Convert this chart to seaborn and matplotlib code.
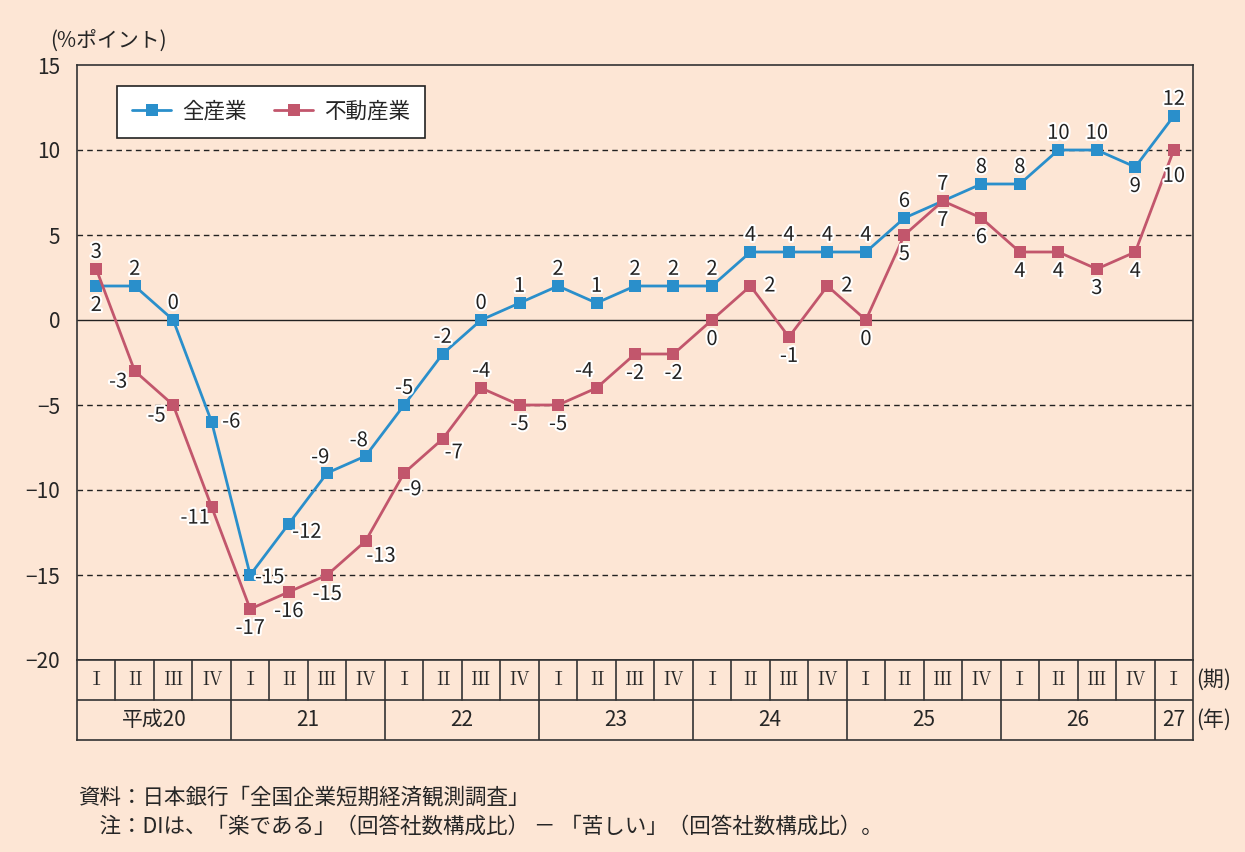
import matplotlib.pyplot as plt
import matplotlib.patheffects as pe
import pandas as pd
import seaborn as sns

# data
quarters = ["Ⅰ", "Ⅱ", "Ⅲ", "Ⅳ"] * 7 + ["Ⅰ"]
years = ["平成20", "21", "22", "23", "24", "25", "26", "27"]
year_len = [4, 4, 4, 4, 4, 4, 4, 1]
all_ind = [2, 2, 0, -6, -15, -12, -9, -8, -5, -2, 0, 1, 2, 1, 2, 2, 2,
           4, 4, 4, 4, 6, 7, 8, 8, 10, 10, 9, 12]
real_estate = [3, -3, -5, -11, -17, -16, -15, -13, -9, -7, -4, -5, -5, -4,
               -2, -2, 0, 2, -1, 2, 0, 5, 7, 6, 4, 4, 3, 4, 10]
series_names = ["全産業", "不動産業"]
colors = ["#2a8fcb", "#c2566c"]

# where the value labels sit (offset in points)
pos = {"a": (0, 12), "b": (0, -14), "r": (14, 0), "lb": (-12, -8),
       "al": (-5, 11), "rb": (13, -6), "b2": (0, -19), "rb2": (11, -11),
       "rb3": (6, -12), "rb4": (8, -10), "al2": (-9, 12), "r15": (14, -2)}
blue_pos = ["b", "a", "a", "r", "r15", "rb", "al", "al"] + ["a"] * 19 + ["b", "a"]
red_pos = ["a", "lb", "lb", "lb", "b", "b", "b", "rb2", "rb3", "rb4", "a",
           "b", "b", "al2", "b", "b", "b", "r", "b", "r", "b", "b", "b", "b",
           "b", "b", "b", "b", "b2"]

bg = "#fde6d5"
sns.set_style("white")
plt.rcParams["font.family"] = ["Noto Sans CJK JP", "DejaVu Sans"]

n = len(all_ind)
df = pd.DataFrame({
    "x": list(range(n)) * 2,
    "value": all_ind + real_estate,
    "series": [series_names[0]] * n + [series_names[1]] * n,
})

fig = plt.figure(figsize=(12.45, 8.52), dpi=100, facecolor=bg)
ax = fig.add_axes([77 / 1245, 192 / 852, 1116 / 1245, 595 / 852], facecolor=bg)

for y in [10, 5, -5, -10, -15]:
    ax.axhline(y, color="#222222", lw=1, ls=(0, (4, 3)), zorder=1)
ax.axhline(0, color="#222222", lw=1, zorder=1)

sns.lineplot(data=df, x="x", y="value", hue="series", palette=colors,
             marker="s", markersize=8, markeredgewidth=0, lw=2, ax=ax,
             zorder=3)

stroke = [pe.withStroke(linewidth=3, foreground="white")]
for vals, codes in [(all_ind, blue_pos), (real_estate, red_pos)]:
    for i, (v, c) in enumerate(zip(vals, codes)):
        ax.annotate(str(v), (i, v), xytext=pos[c], textcoords="offset points",
                    ha="center", va="center", fontsize=14.5, color="#222222",
                    path_effects=stroke, zorder=4)

ax.set_xlim(-0.5, n - 0.5)
ax.set_ylim(-20, 15)
ax.set_yticks(range(-20, 16, 5))
ax.set_yticklabels([str(t).replace("-", "−") for t in range(-20, 16, 5)],
                   fontsize=15)
ax.tick_params(axis="y", length=0, pad=12)
ax.set_xticks([])
ax.set_xlabel("")
ax.set_ylabel("")
for s in ax.spines.values():
    s.set_color("#333333")
    s.set_linewidth(1.2)

leg = ax.legend(loc="upper left", bbox_to_anchor=(0.036, 0.965), ncol=2,
                fontsize=15.5, frameon=True, fancybox=False, framealpha=1,
                handlelength=1.8, handletextpad=0.5, columnspacing=1.3,
                borderpad=0.7, borderaxespad=0)
leg.get_frame().set_facecolor("white")
leg.get_frame().set_edgecolor("#222222")
leg.get_frame().set_linewidth(1.2)

# table under the chart
tab = fig.add_axes([77 / 1245, 112 / 852, 1116 / 1245, 80 / 852], facecolor=bg)
tab.set_xlim(-0.5, n - 0.5)
tab.set_ylim(0, 2)
tab.set_xticks([])
tab.set_yticks([])
for s in tab.spines.values():
    s.set_color("#333333")
    s.set_linewidth(1.2)
tab.axhline(1, color="#333333", lw=1.2)
for i in range(1, n):
    tab.plot([i - 0.5, i - 0.5], [1, 2], color="#333333", lw=1.2)
for i, q in enumerate(quarters):
    tab.text(i, 1.5, q, ha="center", va="center", fontsize=14,
             family=["Noto Serif CJK JP", "Noto Sans CJK JP", "DejaVu Serif"])
start = 0
for y, ln in zip(years, year_len):
    if start > 0:
        tab.plot([start - 0.5, start - 0.5], [0, 1], color="#333333", lw=1.2)
    tab.text(start + ln / 2 - 0.5, 0.5, y, ha="center", va="center", fontsize=15)
    start += ln
tab.text(1.003, 0.75, "(期)", transform=tab.transAxes, ha="left",
         va="center", fontsize=15)
tab.text(1.003, 0.25, "(年)", transform=tab.transAxes, ha="left",
         va="center", fontsize=15)

fig.text(50 / 1245, 1 - 42 / 852, "(%ポイント)", ha="left", va="center",
         fontsize=15)
fig.text(78 / 1245, 1 - 797 / 852, "資料：日本銀行「全国企業短期経済観測調査」",
         ha="left", va="center", fontsize=15.5)
fig.text(78 / 1245, 1 - 827 / 852,
         "　注：DIは、「楽である」（回答社数構成比） － 「苦しい」（回答社数構成比）。",
         ha="left", va="center", fontsize=15.5)

fig.savefig("out.png", dpi=100, facecolor=bg)
